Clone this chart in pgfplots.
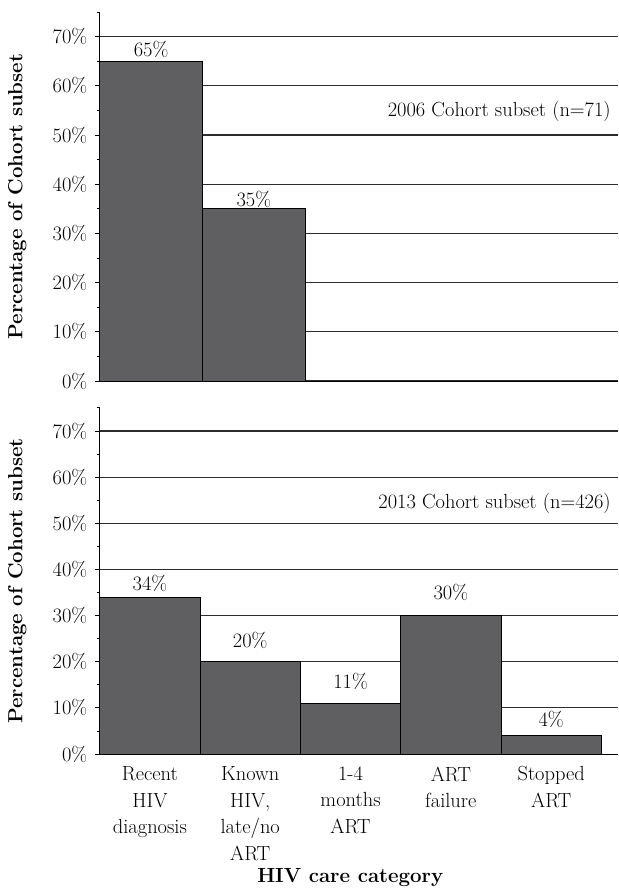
\documentclass[border=0pt]{standalone}
\usepackage{pgfplots}
\pgfplotsset{compat=1.18}
\definecolor{barfill}{RGB}{95,95,98}
\definecolor{gridc}{RGB}{45,45,45}
\newcommand{\cf}{\fontsize{20.5}{26.7}\selectfont}
\pgfplotsset{
  hivpanel/.style={
    scale only axis,
    width=520pt,
    anchor=south west,
    xmin=0.5,
    ymin=0, ymax=75,
    axis x line=bottom,
    axis y line=left,
    axis line style={-, black, line width=1pt},
    ytick={0,10,...,70},
    minor ytick={5,15,...,75},
    yticklabels={0\%,10\%,20\%,30\%,40\%,50\%,60\%,70\%},
    ytick pos=left,
    tick align=outside,
    major tick length=5pt,
    minor tick length=3pt,
    every tick/.style={black, line width=0.9pt},
    yticklabel style={font=\cf, xshift=-4pt},
    ymajorgrids,
    major grid style={gridc, line width=1.1pt},
    ylabel={\textbf{Percentage of Cohort subset}},
    ylabel style={font=\cf, at={(axis description cs:-0.1346,0.5)}, anchor=south, rotate=0},
    clip=false,
  },
  hivbar/.style={ybar, bar width=1, bar shift=0pt, fill=barfill, draw=black, line width=1pt},
}
\begin{document}
\begin{tikzpicture}
\path (0,0) rectangle (620pt,890pt);

% 2006 panel
\begin{axis}[hivpanel, at={(100pt,508pt)}, height=370pt, xmax=5.55, xtick=\empty]
  \addplot[hivbar] coordinates {(1,65) (2,35)};
  \node[font=\cf] at (axis cs:1,67.3) {65\%};
  \node[font=\cf] at (axis cs:2,36.9) {35\%};
  \node[font=\cf, anchor=east] at (rel axis cs:0.992,0.731) {2006 Cohort subset (n=71)};
\end{axis}

% 2013 panel
\begin{axis}[hivpanel, at={(100pt,134pt)}, height=347pt, xmax=5.67,
  xtick={1,2,3,4,5},
  xticklabels={Recent\\HIV\\diagnosis, {Known\\HIV,\\late/no\\ART}, 1-4\\months\\ART, ART\\failure, Stopped\\ART},
  xticklabel style={font=\cf, align=center, anchor=north, yshift=-4pt},
  x tick style={draw=none},
  xlabel={\textbf{HIV care category}},
  xlabel style={font=\cf, at={(axis description cs:0.483,-0.357)}, anchor=center},
  ]
  \addplot[hivbar] coordinates {(1,34) (2,20) (3,11) (4,30) (5,4)};
  \node[font=\cf] at (axis cs:1,36.9) {34\%};
  \node[font=\cf] at (axis cs:2,24.7) {20\%};
  \node[font=\cf] at (axis cs:3,15.8) {11\%};
  \node[font=\cf] at (axis cs:4,35.1) {30\%};
  \node[font=\cf] at (axis cs:5,7.4) {4\%};
  \node[font=\cf, anchor=east] at (rel axis cs:0.992,0.723) {2013 Cohort subset (n=426)};
\end{axis}
\end{tikzpicture}
\end{document}
